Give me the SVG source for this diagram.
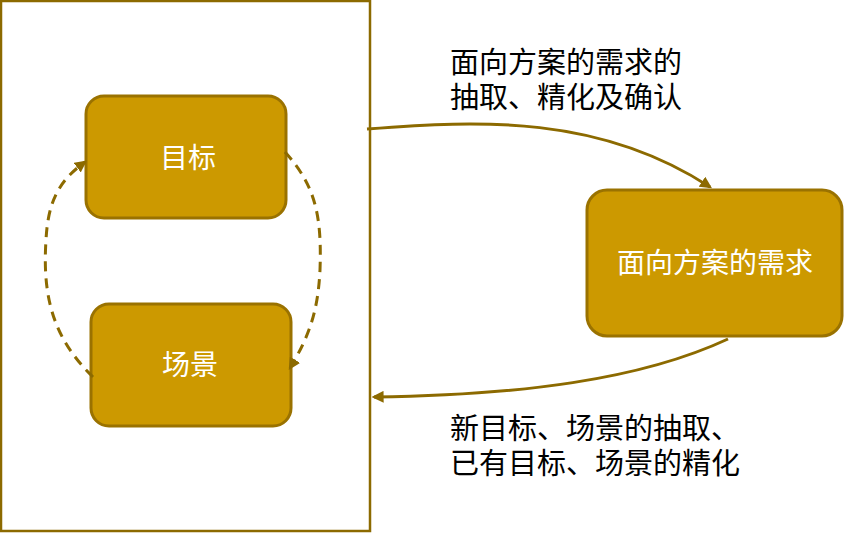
<svg xmlns="http://www.w3.org/2000/svg" width="844" height="533" viewBox="0 0 844 533">
<style>
.box{fill:#CC9900;stroke:#9A7200;stroke-width:3}
.t{font-family:"Liberation Serif","Noto Sans CJK SC",serif;font-size:28px;fill:#fff;text-anchor:middle;dominant-baseline:central}
.l{font-family:"Liberation Serif","Noto Sans CJK SC",serif;font-size:29px;fill:#000}
.c{fill:none;stroke:#8C6A00;stroke-width:3}
.d{stroke-dasharray:10 7}
</style>
<defs><marker id="a" viewBox="0 0 10 10" refX="8" refY="5" markerWidth="4" markerHeight="4" orient="auto"><path d="M0,0L10,5L0,10z" fill="#8C6A00"/></marker></defs>
<rect x="1" y="1" width="369" height="530" fill="none" stroke="#8C6A00" stroke-width="2.5"/>
<g id="goal"><rect class="box" x="86" y="96" width="200" height="122" rx="18"/><text class="t" x="188" y="158">目标</text></g>
<g id="scene"><rect class="box" x="91" y="304" width="200" height="122" rx="18"/><text class="t" x="190" y="365">场景</text></g>
<g id="req"><rect class="box" x="587" y="190" width="255" height="146" rx="20"/><text class="t" x="715" y="263">面向方案的需求</text></g>
<g id="connectors">
<path class="c d" d="M93,377 C55,340 42,300 46,240 C48,200 60,180 85,162" marker-end="url(#a)"/>
<path class="c d" d="M285,152 C315,185 322,215 320,270 C318,310 310,335 290,368" marker-end="url(#a)"/>
<path class="c" d="M367,129 C480,120 600,115 710,187" marker-end="url(#a)"/>
<path class="c" d="M728,339 C640,380 520,395 374,397" marker-end="url(#a)"/>
</g>
<text class="l" x="450" y="73">面向方案的需求的</text>
<text class="l" x="450" y="108">抽取、精化及确认</text>
<text class="l" x="450" y="439">新目标、场景的抽取、</text>
<text class="l" x="450" y="474">已有目标、场景的精化</text>
</svg>
